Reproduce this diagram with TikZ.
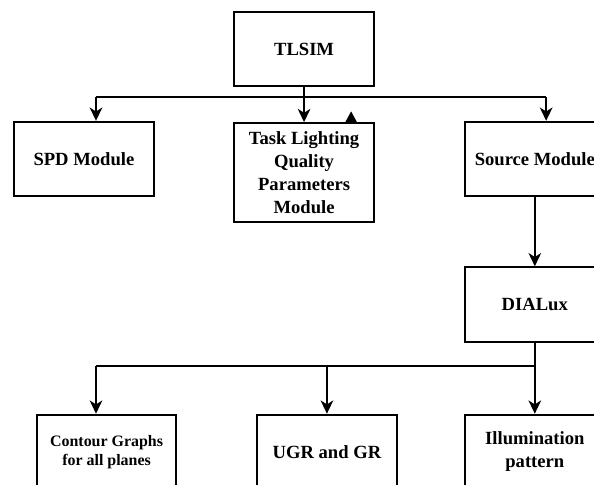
\documentclass[tikz,border=0pt]{standalone}
\usepackage{fontspec}
\setmainfont{Liberation Serif}
\usetikzlibrary{arrows.meta}

\begin{document}
\begin{tikzpicture}
      \useasboundingbox (0,0) rectangle (15.716,12.806);
      \clip (0,0) rectangle (15.716,12.806);

      \begin{scope}[every node/.style={rectangle, draw, line width=1.4pt, inner sep=0pt, align=center,
          minimum width=3.69cm, minimum height=1.97cm, font=\fontsize{14}{17.3}\selectfont\bfseries}]
        \node (0) at (8.045,11.51) {TLSIM};
        \node (1) at (2.22,8.60) {SPD Module};
        \node [minimum height=2.62cm] (2) at (8.045,8.24) {Task Lighting\\Quality\\Parameters\\Module};
        \node (3) at (14.15,8.60) {Source Module};
        \node (4) at (14.15,4.75) {DIALux};
        \node [font=\fontsize{12}{14.5}\selectfont\bfseries] (5) at (2.82,0.85) {Contour Graphs\\for all planes};
        \node (6) at (8.65,0.85) {UGR and GR};
        \node (7) at (14.15,0.85) {Illumination\\pattern};
      \end{scope}

      % branch points of the two buses
      \coordinate (b1) at (2.54,10.24);
      \coordinate (b2) at (14.45,10.24);
      \coordinate (b3) at (2.54,3.12);

      \begin{scope}[-{Stealth[length=10pt,width=9.5pt,inset=3pt]}, line width=1.3pt]
        \draw [-] (b1) -- (b2);
        \draw (0) to (2);
        \draw (b1) to (b1 |- 1.north);
        \draw (b2) to (b2 |- 3.north);
        \draw (3) to (4);
        \draw (4) to (7);
        \draw [-] (b3) -- (b3 -| 4.south);
        \draw (b3) to (b3 |- 5.north);
        \draw (6 |- b3) to (6);
      \end{scope}

      \fill (9.14,9.58) -- (9.44,9.58) -- (9.29,9.86) -- cycle;
   \end{tikzpicture}
\end{document}
